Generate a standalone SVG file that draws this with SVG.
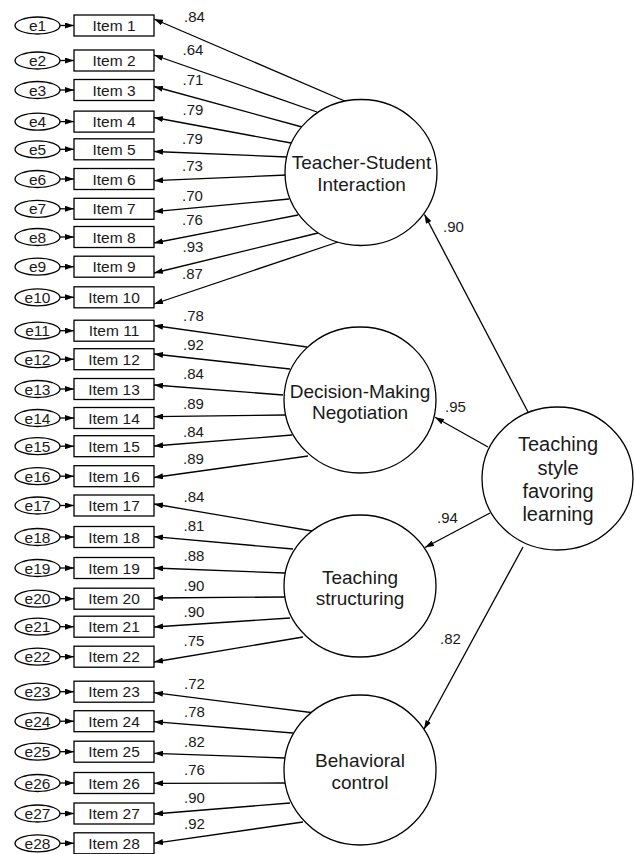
<svg xmlns="http://www.w3.org/2000/svg" width="634" height="854" viewBox="0 0 634 854">
<defs>
<marker id="ah" markerWidth="9" markerHeight="6" refX="9" refY="3" orient="auto" markerUnits="userSpaceOnUse"><path d="M0,0 L9,3 L0,6 z" fill="#000"/></marker>
<style>
.ln{stroke:#000;stroke-width:1.3;fill:none;marker-end:url(#ah)}
.bx{fill:#fff;stroke:#000;stroke-width:1.3}
.lv{fill:#fff;stroke:#000;stroke-width:1.3}
.t{font-family:"Liberation Sans",Arial,sans-serif;fill:#1a1a1a}
.it{font-size:15.5px;text-anchor:middle}
.cf{font-size:15px}
.lt{font-size:19px;text-anchor:middle}
.lt2{font-size:20px;text-anchor:middle}
</style>
</defs>
<rect width="634" height="854" fill="#fff"/>
<g id="connectors">
<line class="ln" x1="60" y1="25.5" x2="74" y2="25.5"/>
<line class="ln" x1="60" y1="60.5" x2="74" y2="60.5"/>
<line class="ln" x1="60" y1="90" x2="74" y2="90"/>
<line class="ln" x1="60" y1="121.6" x2="74" y2="121.6"/>
<line class="ln" x1="60" y1="149.3" x2="74" y2="149.3"/>
<line class="ln" x1="60" y1="179" x2="74" y2="179"/>
<line class="ln" x1="60" y1="208.8" x2="74" y2="208.8"/>
<line class="ln" x1="60" y1="237" x2="74" y2="237"/>
<line class="ln" x1="60" y1="266.7" x2="74" y2="266.7"/>
<line class="ln" x1="60" y1="297.3" x2="74" y2="297.3"/>
<line class="ln" x1="60" y1="330.7" x2="74" y2="330.7"/>
<line class="ln" x1="60" y1="359.2" x2="74" y2="359.2"/>
<line class="ln" x1="60" y1="389" x2="74" y2="389"/>
<line class="ln" x1="60" y1="418" x2="74" y2="418"/>
<line class="ln" x1="60" y1="446.2" x2="74" y2="446.2"/>
<line class="ln" x1="60" y1="476.2" x2="74" y2="476.2"/>
<line class="ln" x1="60" y1="505.5" x2="74" y2="505.5"/>
<line class="ln" x1="60" y1="537" x2="74" y2="537"/>
<line class="ln" x1="60" y1="568" x2="74" y2="568"/>
<line class="ln" x1="60" y1="598.7" x2="74" y2="598.7"/>
<line class="ln" x1="60" y1="626.7" x2="74" y2="626.7"/>
<line class="ln" x1="60" y1="656.7" x2="74" y2="656.7"/>
<line class="ln" x1="60" y1="691.7" x2="74" y2="691.7"/>
<line class="ln" x1="60" y1="721.2" x2="74" y2="721.2"/>
<line class="ln" x1="60" y1="751.7" x2="74" y2="751.7"/>
<line class="ln" x1="60" y1="783" x2="74" y2="783"/>
<line class="ln" x1="60" y1="813.5" x2="74" y2="813.5"/>
<line class="ln" x1="60" y1="843.3" x2="74" y2="843.3"/>
<line class="ln" x1="347" y1="102" x2="154" y2="19"/>
<line class="ln" x1="317" y1="112" x2="154" y2="55"/>
<line class="ln" x1="302" y1="127" x2="154" y2="86.5"/>
<line class="ln" x1="291" y1="143" x2="154" y2="117.5"/>
<line class="ln" x1="287" y1="157" x2="154" y2="151.5"/>
<line class="ln" x1="287" y1="175" x2="154" y2="180.7"/>
<line class="ln" x1="289" y1="199" x2="154" y2="211.7"/>
<line class="ln" x1="298" y1="215" x2="154" y2="243"/>
<line class="ln" x1="318" y1="233" x2="154" y2="273"/>
<line class="ln" x1="338" y1="242" x2="154" y2="304"/>
<line class="ln" x1="307" y1="347" x2="154" y2="325.5"/>
<line class="ln" x1="290" y1="369" x2="154" y2="354"/>
<line class="ln" x1="283" y1="395" x2="154" y2="385"/>
<line class="ln" x1="285" y1="415" x2="154" y2="416.7"/>
<line class="ln" x1="292" y1="435" x2="154" y2="446"/>
<line class="ln" x1="308" y1="456" x2="154" y2="477.5"/>
<line class="ln" x1="312" y1="531" x2="154" y2="504"/>
<line class="ln" x1="293" y1="549" x2="154" y2="536.7"/>
<line class="ln" x1="285" y1="573" x2="154" y2="568"/>
<line class="ln" x1="285" y1="597" x2="154" y2="598"/>
<line class="ln" x1="290" y1="618" x2="154" y2="627"/>
<line class="ln" x1="303" y1="637" x2="154" y2="662"/>
<line class="ln" x1="315" y1="713" x2="154" y2="692.7"/>
<line class="ln" x1="293" y1="733" x2="154" y2="721.7"/>
<line class="ln" x1="285" y1="758" x2="154" y2="753.3"/>
<line class="ln" x1="285" y1="783" x2="154" y2="783.3"/>
<line class="ln" x1="290" y1="803" x2="154" y2="814"/>
<line class="ln" x1="303" y1="822" x2="154" y2="843.3"/>
<line class="ln" x1="528" y1="412" x2="424.5" y2="214.5"/>
<line class="ln" x1="488" y1="447" x2="435" y2="417.3"/>
<line class="ln" x1="490" y1="513" x2="425" y2="547.5"/>
<line class="ln" x1="523" y1="547" x2="424" y2="729.3"/>
</g>
<g id="coefficients" class="t cf">
<text x="184" y="21.7">.84</text>
<text x="182.5" y="55">.64</text>
<text x="182.5" y="85">.71</text>
<text x="182.5" y="115">.79</text>
<text x="182" y="144">.79</text>
<text x="182" y="170.7">.73</text>
<text x="182" y="200.7">.70</text>
<text x="182" y="225">.76</text>
<text x="182.5" y="252.3">.93</text>
<text x="182" y="279">.87</text>
<text x="183" y="320.7">.78</text>
<text x="183" y="350">.92</text>
<text x="183" y="379.3">.84</text>
<text x="183" y="409.3">.89</text>
<text x="183" y="436.7">.84</text>
<text x="183" y="464">.89</text>
<text x="183.5" y="501.7">.84</text>
<text x="183.5" y="530.7">.81</text>
<text x="183.5" y="560.7">.88</text>
<text x="183.5" y="590.7">.90</text>
<text x="183.5" y="617.3">.90</text>
<text x="183.5" y="646">.75</text>
<text x="184" y="689">.72</text>
<text x="184" y="717.3">.78</text>
<text x="184" y="746.7">.82</text>
<text x="184" y="775">.76</text>
<text x="184" y="803.3">.90</text>
<text x="184" y="829">.92</text>
<text x="443" y="232">.90</text>
<text x="445" y="412">.95</text>
<text x="437" y="523">.94</text>
<text x="440" y="644">.82</text>
</g>
<g id="e1"><ellipse class="lv" cx="37.5" cy="25.5" rx="22.5" ry="8.5"/><text class="t it" x="37.5" y="31">e1</text></g>
<g id="item1"><rect class="bx" x="74" y="15" width="80" height="21"/><text class="t it" x="114" y="31">Item 1</text></g>
<g id="e2"><ellipse class="lv" cx="37.5" cy="60.5" rx="22.5" ry="8.5"/><text class="t it" x="37.5" y="66">e2</text></g>
<g id="item2"><rect class="bx" x="74" y="50" width="80" height="21"/><text class="t it" x="114" y="66">Item 2</text></g>
<g id="e3"><ellipse class="lv" cx="37.5" cy="90" rx="22.5" ry="8.5"/><text class="t it" x="37.5" y="95.5">e3</text></g>
<g id="item3"><rect class="bx" x="74" y="79.5" width="80" height="21"/><text class="t it" x="114" y="95.5">Item 3</text></g>
<g id="e4"><ellipse class="lv" cx="37.5" cy="121.6" rx="22.5" ry="8.5"/><text class="t it" x="37.5" y="127.1">e4</text></g>
<g id="item4"><rect class="bx" x="74" y="111.1" width="80" height="21"/><text class="t it" x="114" y="127.1">Item 4</text></g>
<g id="e5"><ellipse class="lv" cx="37.5" cy="149.3" rx="22.5" ry="8.5"/><text class="t it" x="37.5" y="154.8">e5</text></g>
<g id="item5"><rect class="bx" x="74" y="138.8" width="80" height="21"/><text class="t it" x="114" y="154.8">Item 5</text></g>
<g id="e6"><ellipse class="lv" cx="37.5" cy="179" rx="22.5" ry="8.5"/><text class="t it" x="37.5" y="184.5">e6</text></g>
<g id="item6"><rect class="bx" x="74" y="168.5" width="80" height="21"/><text class="t it" x="114" y="184.5">Item 6</text></g>
<g id="e7"><ellipse class="lv" cx="37.5" cy="208.8" rx="22.5" ry="8.5"/><text class="t it" x="37.5" y="214.3">e7</text></g>
<g id="item7"><rect class="bx" x="74" y="198.3" width="80" height="21"/><text class="t it" x="114" y="214.3">Item 7</text></g>
<g id="e8"><ellipse class="lv" cx="37.5" cy="237" rx="22.5" ry="8.5"/><text class="t it" x="37.5" y="242.5">e8</text></g>
<g id="item8"><rect class="bx" x="74" y="226.5" width="80" height="21"/><text class="t it" x="114" y="242.5">Item 8</text></g>
<g id="e9"><ellipse class="lv" cx="37.5" cy="266.7" rx="22.5" ry="8.5"/><text class="t it" x="37.5" y="272.2">e9</text></g>
<g id="item9"><rect class="bx" x="74" y="256.2" width="80" height="21"/><text class="t it" x="114" y="272.2">Item 9</text></g>
<g id="e10"><ellipse class="lv" cx="37.5" cy="297.3" rx="22.5" ry="8.5"/><text class="t it" x="37.5" y="302.8">e10</text></g>
<g id="item10"><rect class="bx" x="74" y="286.8" width="80" height="21"/><text class="t it" x="114" y="302.8">Item 10</text></g>
<g id="e11"><ellipse class="lv" cx="37.5" cy="330.7" rx="22.5" ry="8.5"/><text class="t it" x="37.5" y="336.2">e11</text></g>
<g id="item11"><rect class="bx" x="74" y="320.2" width="80" height="21"/><text class="t it" x="114" y="336.2">Item 11</text></g>
<g id="e12"><ellipse class="lv" cx="37.5" cy="359.2" rx="22.5" ry="8.5"/><text class="t it" x="37.5" y="364.7">e12</text></g>
<g id="item12"><rect class="bx" x="74" y="348.7" width="80" height="21"/><text class="t it" x="114" y="364.7">Item 12</text></g>
<g id="e13"><ellipse class="lv" cx="37.5" cy="389" rx="22.5" ry="8.5"/><text class="t it" x="37.5" y="394.5">e13</text></g>
<g id="item13"><rect class="bx" x="74" y="378.5" width="80" height="21"/><text class="t it" x="114" y="394.5">Item 13</text></g>
<g id="e14"><ellipse class="lv" cx="37.5" cy="418" rx="22.5" ry="8.5"/><text class="t it" x="37.5" y="423.5">e14</text></g>
<g id="item14"><rect class="bx" x="74" y="407.5" width="80" height="21"/><text class="t it" x="114" y="423.5">Item 14</text></g>
<g id="e15"><ellipse class="lv" cx="37.5" cy="446.2" rx="22.5" ry="8.5"/><text class="t it" x="37.5" y="451.7">e15</text></g>
<g id="item15"><rect class="bx" x="74" y="435.7" width="80" height="21"/><text class="t it" x="114" y="451.7">Item 15</text></g>
<g id="e16"><ellipse class="lv" cx="37.5" cy="476.2" rx="22.5" ry="8.5"/><text class="t it" x="37.5" y="481.7">e16</text></g>
<g id="item16"><rect class="bx" x="74" y="465.7" width="80" height="21"/><text class="t it" x="114" y="481.7">Item 16</text></g>
<g id="e17"><ellipse class="lv" cx="37.5" cy="505.5" rx="22.5" ry="8.5"/><text class="t it" x="37.5" y="511">e17</text></g>
<g id="item17"><rect class="bx" x="74" y="495" width="80" height="21"/><text class="t it" x="114" y="511">Item 17</text></g>
<g id="e18"><ellipse class="lv" cx="37.5" cy="537" rx="22.5" ry="8.5"/><text class="t it" x="37.5" y="542.5">e18</text></g>
<g id="item18"><rect class="bx" x="74" y="526.5" width="80" height="21"/><text class="t it" x="114" y="542.5">Item 18</text></g>
<g id="e19"><ellipse class="lv" cx="37.5" cy="568" rx="22.5" ry="8.5"/><text class="t it" x="37.5" y="573.5">e19</text></g>
<g id="item19"><rect class="bx" x="74" y="557.5" width="80" height="21"/><text class="t it" x="114" y="573.5">Item 19</text></g>
<g id="e20"><ellipse class="lv" cx="37.5" cy="598.7" rx="22.5" ry="8.5"/><text class="t it" x="37.5" y="604.2">e20</text></g>
<g id="item20"><rect class="bx" x="74" y="588.2" width="80" height="21"/><text class="t it" x="114" y="604.2">Item 20</text></g>
<g id="e21"><ellipse class="lv" cx="37.5" cy="626.7" rx="22.5" ry="8.5"/><text class="t it" x="37.5" y="632.2">e21</text></g>
<g id="item21"><rect class="bx" x="74" y="616.2" width="80" height="21"/><text class="t it" x="114" y="632.2">Item 21</text></g>
<g id="e22"><ellipse class="lv" cx="37.5" cy="656.7" rx="22.5" ry="8.5"/><text class="t it" x="37.5" y="662.2">e22</text></g>
<g id="item22"><rect class="bx" x="74" y="646.2" width="80" height="21"/><text class="t it" x="114" y="662.2">Item 22</text></g>
<g id="e23"><ellipse class="lv" cx="37.5" cy="691.7" rx="22.5" ry="8.5"/><text class="t it" x="37.5" y="697.2">e23</text></g>
<g id="item23"><rect class="bx" x="74" y="681.2" width="80" height="21"/><text class="t it" x="114" y="697.2">Item 23</text></g>
<g id="e24"><ellipse class="lv" cx="37.5" cy="721.2" rx="22.5" ry="8.5"/><text class="t it" x="37.5" y="726.7">e24</text></g>
<g id="item24"><rect class="bx" x="74" y="710.7" width="80" height="21"/><text class="t it" x="114" y="726.7">Item 24</text></g>
<g id="e25"><ellipse class="lv" cx="37.5" cy="751.7" rx="22.5" ry="8.5"/><text class="t it" x="37.5" y="757.2">e25</text></g>
<g id="item25"><rect class="bx" x="74" y="741.2" width="80" height="21"/><text class="t it" x="114" y="757.2">Item 25</text></g>
<g id="e26"><ellipse class="lv" cx="37.5" cy="783" rx="22.5" ry="8.5"/><text class="t it" x="37.5" y="788.5">e26</text></g>
<g id="item26"><rect class="bx" x="74" y="772.5" width="80" height="21"/><text class="t it" x="114" y="788.5">Item 26</text></g>
<g id="e27"><ellipse class="lv" cx="37.5" cy="813.5" rx="22.5" ry="8.5"/><text class="t it" x="37.5" y="819">e27</text></g>
<g id="item27"><rect class="bx" x="74" y="803" width="80" height="21"/><text class="t it" x="114" y="819">Item 27</text></g>
<g id="e28"><ellipse class="lv" cx="37.5" cy="843.3" rx="22.5" ry="8.5"/><text class="t it" x="37.5" y="848.8">e28</text></g>
<g id="item28"><rect class="bx" x="74" y="832.8" width="80" height="21"/><text class="t it" x="114" y="848.8">Item 28</text></g>
<g id="teacher-student"><ellipse class="lv" cx="361" cy="172.5" rx="76" ry="73"/><text class="t lt" x="361.5" y="169.3">Teacher-Student</text><text class="t lt" x="361.5" y="190.7">Interaction</text></g>
<g id="decision-making"><ellipse class="lv" cx="360" cy="400" rx="76" ry="73"/><text class="t lt" x="360" y="397.5">Decision-Making</text><text class="t lt" x="360" y="418.5">Negotiation</text></g>
<g id="teaching-structuring"><ellipse class="lv" cx="360" cy="586" rx="76" ry="71"/><text class="t lt" x="360" y="584.3">Teaching</text><text class="t lt" x="360" y="605.3">structuring</text></g>
<g id="behavioral-control"><ellipse class="lv" cx="360" cy="770" rx="76" ry="75"/><text class="t lt" x="360" y="767.3">Behavioral</text><text class="t lt" x="360" y="789.3">control</text></g>
<g id="teaching-style"><ellipse class="lv" cx="557.5" cy="478.5" rx="75.5" ry="71.5"/><text class="t lt2" x="558" y="451">Teaching</text><text class="t lt2" x="558" y="474.5">style</text><text class="t lt2" x="558" y="497.5">favoring</text><text class="t lt2" x="558" y="521">learning</text></g>
</svg>
